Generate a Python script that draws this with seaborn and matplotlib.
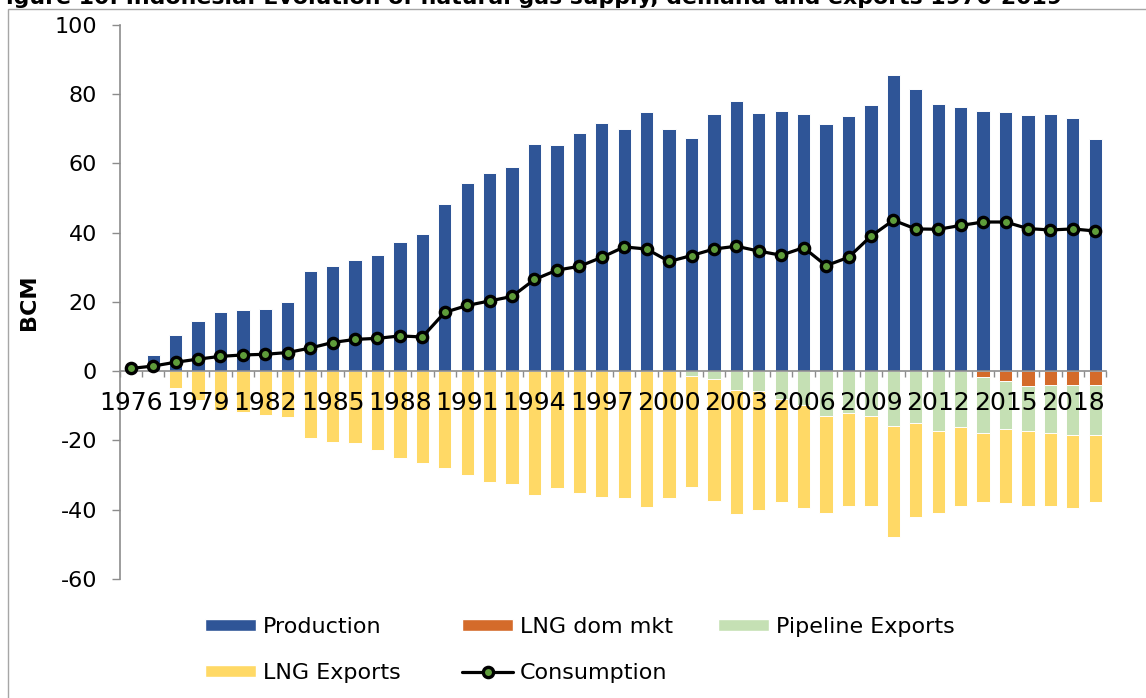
import numpy as np
import matplotlib
matplotlib.use("Agg")
import matplotlib.pyplot as plt
from matplotlib.patches import Patch, Rectangle
from matplotlib.lines import Line2D
from matplotlib.ticker import FixedLocator
import seaborn as sns

# --- data (BCM) ---
years = list(range(1976, 2020))

production = [1.0, 4.8, 10.6, 14.4, 17.0, 17.6, 18.1, 20.0, 28.9, 30.3,
              32.1, 33.5, 37.2, 39.5, 48.3, 54.5, 57.2, 59.0, 65.6, 65.4,
              68.9, 71.7, 70.1, 75.0, 70.0, 67.5, 74.4, 78.0, 74.6, 75.1,
              74.3, 71.5, 73.7, 76.9, 85.7, 81.4, 77.1, 76.4, 75.2, 75.0,
              74.0, 74.3, 73.2, 67.0]

lng_dom_mkt = [0.0] * 38 + [-1.7, -2.7, -4.2, -4.0, -4.0, -3.9]

pipeline_exports = [0.0] * 25 + [-1.3, -2.2, -5.4, -5.8, -8.0, -9.7, -13.0,
                                 -12.0, -12.9, -15.8, -15.0, -17.4, -16.2,
                                 -16.0, -13.9, -13.2, -13.7, -14.4, -14.6]

lng_exports = [0.0, 0.0, -4.9, -8.2, -11.1, -11.8, -12.7, -13.1, -19.4, -20.4,
               -20.8, -22.8, -25.0, -26.4, -27.9, -30.1, -32.0, -32.6, -35.6, -33.8,
               -35.3, -36.3, -36.7, -39.3, -36.7, -32.0, -35.4, -35.7, -34.2, -29.8,
               -29.8, -28.0, -27.0, -26.0, -32.1, -27.0, -23.6, -22.8, -20.2, -21.4,
               -21.4, -21.1, -21.0, -19.2]

consumption = [0.8, 1.5, 2.6, 3.5, 4.3, 4.7, 4.9, 5.4, 6.7, 8.3,
               9.2, 9.5, 10.2, 9.9, 17.0, 19.0, 20.3, 21.6, 26.5, 29.2,
               30.3, 32.9, 35.9, 35.3, 31.7, 33.4, 35.3, 36.1, 34.7, 33.5,
               35.7, 30.5, 32.9, 39.0, 43.6, 41.1, 41.0, 42.1, 43.1, 43.1,
               41.2, 40.8, 41.1, 40.5]

label_years = years[::3]

C_PROD = "#2F5597"
C_DOM = "#D46B2A"
C_PIPE = "#C5E0B4"
C_LNG = "#FFD966"
C_MARK = "#5E9C3A"
GREY = "#8C8C8C"

sns.set_style("white")
plt.rcParams["font.family"] = ["DejaVu Sans"]
plt.rcParams["axes.unicode_minus"] = False
plt.rcParams["text.color"] = "black"
plt.rcParams["axes.labelcolor"] = "black"

fig = plt.figure(figsize=(11.46, 6.98), dpi=100)
ax = fig.add_axes([0.1043, 0.1705, 0.8612, 0.7937])

x_cat = [str(y) for y in years]
bar_kw = dict(width=0.59, saturation=1, edgecolor="white", linewidth=0.7, ax=ax)

# negative side drawn as overlapping cumulative bars (stack order: dom, pipeline, LNG)
neg_dom = np.array(lng_dom_mkt)
neg_pipe = neg_dom + np.array(pipeline_exports)
neg_all = neg_pipe + np.array(lng_exports)

sns.barplot(x=x_cat, y=production, color=C_PROD, **bar_kw)
sns.barplot(x=x_cat, y=neg_all, color=C_LNG, **bar_kw)
sns.barplot(x=x_cat, y=neg_pipe, color=C_PIPE, **bar_kw)
sns.barplot(x=x_cat, y=neg_dom, color=C_DOM, **bar_kw)

line_kw = dict(color="black", linewidth=2.3, marker="o", markersize=7.4,
               markerfacecolor=C_MARK, markeredgecolor="black", markeredgewidth=2.4)
sns.lineplot(x=np.arange(len(years)), y=consumption, ax=ax, zorder=5, **line_kw)

ax.set_axisbelow(False)  # year labels sit on top of the bars
ax.set_xlim(-0.5, len(years) - 0.5)
ax.set_ylim(-60, 100)
ax.set_yticks(np.arange(-60, 101, 20))

ax.set_xticks([years.index(y) for y in label_years])
ax.set_xticklabels([str(y) for y in label_years])
ax.xaxis.set_minor_locator(FixedLocator(np.arange(-0.5, len(years), 1.0)))
ax.tick_params(axis="x", which="major", length=0, pad=14, labelsize=18,
               labelcolor="black")
ax.tick_params(axis="x", which="minor", bottom=True, direction="out", length=4.5,
               width=1, color=GREY)
ax.tick_params(axis="y", left=True, direction="out", length=5.8, width=1,
               color=GREY, pad=10.5, labelsize=16, labelcolor="black")

for s in ["top", "right"]:
    ax.spines[s].set_visible(False)
ax.spines["bottom"].set_position(("data", 0))
for s in ["left", "bottom"]:
    ax.spines[s].set_color(GREY)
    ax.spines[s].set_linewidth(1.2)

ax.set_xlabel("")
ax.set_ylabel("BCM", fontsize=16, fontweight="bold", labelpad=11)

# legend: one small legend per column so columns sit where they do in the reference
leg_kw = dict(loc="upper left", frameon=False, fontsize=16, handlelength=2.3,
              handleheight=0.45, handletextpad=0.32, labelspacing=1.17,
              borderpad=0, borderaxespad=0)
cols = [
    (205, [Patch(facecolor=C_PROD, label="Production"),
           Patch(facecolor=C_LNG, label="LNG Exports")]),
    (462, [Patch(facecolor=C_DOM, label="LNG dom mkt"),
           Line2D([], [], label="Consumption", **line_kw)]),
    (718, [Patch(facecolor=C_PIPE, label="Pipeline Exports")]),
]
for x0, hs in cols:
    fig.legend(handles=hs, bbox_to_anchor=(x0 / 1146, 1 - 617 / 698), **leg_kw)

# clipped title line and outer chart frame as in the source document
fig.text(1062 / 1146, 1 - 4 / 698,
         "Figure 10: Indonesia: Evolution of natural gas supply, demand and exports 1976-2019",
         ha="right", va="baseline", fontsize=15.8, fontweight="bold")
fig.add_artist(Rectangle((8 / 1146, -0.05), 1.2, 1 - 8.5 / 698 + 0.05,
                         transform=fig.transFigure, fill=False,
                         edgecolor="#A6A6A6", linewidth=1))

fig.savefig("out.png", dpi=100)
